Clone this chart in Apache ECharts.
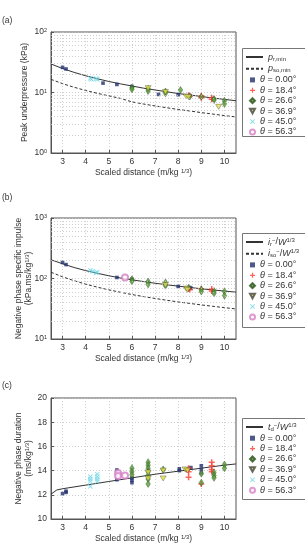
<!DOCTYPE html>
<html>
<head>
<meta charset="utf-8">
<script src="https://cdn.jsdelivr.net/npm/echarts@6/dist/echarts.min.js"></script>
<style>
html,body{margin:0;padding:0;background:#fff}
#main{width:305px;height:552px}
</style>
</head>
<body>
<div id="main"></div>
<script>
// x ticks (scaled distance)
var xTicks = [3, 4, 5, 6, 7, 8, 9, 10];
// minor grid lines of the log axes
var minorA = [2, 3, 4, 5, 6, 7, 8, 9, 20, 30, 40, 50, 60, 70, 80, 90];
var minorB = [20, 30, 40, 50, 60, 70, 80, 90, 200, 300, 400, 500, 600, 700, 800, 900];

// curves
var curveX = [2.5, 3, 3.5, 4, 4.5, 5, 5.5, 6, 6.5, 7, 7.5, 8, 8.5, 9, 9.5, 10, 10.5];
var prMin  = [29.6, 24.9, 21.5, 18.9, 16.9, 15.2, 13.9, 12.8, 11.8, 11.0, 10.3, 9.6, 9.1, 8.6, 8.1, 7.7, 7.3];
var psoMin = [16.5, 14.0, 12.2, 10.8, 9.7, 8.8, 8.0, 7.0, 6.45, 6.0, 5.6, 5.25, 4.95, 4.65, 4.4, 4.15, 3.95];
var irW    = [204, 175, 152, 135, 122, 111, 102, 95, 89, 83.5, 78.8, 74.7, 71, 67.7, 64.7, 62, 59.5];
var isoW   = [127, 106.5, 92, 80.6, 72, 65, 59.3, 54.3, 50.3, 46.8, 43.7, 41, 38.7, 36.6, 34.7, 33, 31.4];
var tdX    = [2.5, 2.75, 3, 4, 5, 6, 7, 8, 9, 10, 10.5];
var tdW    = [12.05, 12.4, 12.5, 12.8, 13.1, 13.4, 13.7, 13.95, 14.2, 14.45, 14.55];

// (a) peak underpressure, kPa
var a00 = [[3.0,26],[3.15,24.5],[4.75,14.3],[5.35,13.6],[6.0,12.6],[7.15,9.3],[8.0,9.2],[8.5,8.9]];
var a18 = [[8.45,9.0],[8.5,8.7],[9.0,8.8],[9.0,8.2],[9.45,8.2],[9.45,7.7]];
var a26 = [[6.0,12.0],[6.0,11.3],[6.7,11.5],[6.7,10.6],[7.45,10.4],[7.45,9.7],[8.1,11.0],[8.5,8.6],[9.0,8.5],[9.55,7.8],[9.55,7.5],[10.0,7.3],[10.0,6.5]];
var a36 = [[6.7,11.8],[7.45,10.2],[8.35,8.6],[8.45,8.4],[9.75,5.8]];
var a45 = [[4.2,17.2],[4.25,16.5],[4.45,17.0],[4.5,16.5]];
var a56 = [];

// (b) negative phase specific impulse
var b00 = [[3.0,184],[3.15,170],[5.35,104],[6.0,97],[8.0,74],[8.5,71],[8.55,69]];
var b18 = [[8.45,68],[8.5,65],[9.0,68],[9.45,67],[9.45,62]];
var b26 = [[6.0,97],[6.0,90],[6.7,89],[6.7,80],[7.45,86],[7.45,76],[8.45,70],[9.0,66],[9.0,61],[9.55,62],[9.55,57],[10.0,61],[10.0,52]];
var b36 = [[7.45,78],[8.35,68],[8.4,65]];
var b45 = [[4.2,135],[4.3,132],[4.45,124],[4.5,127]];
var b56 = [[5.7,104]];

// (c) negative phase duration
var c00 = [[3.0,12.1],[3.15,12.2],[3.15,12.3],[5.35,14.05],[5.35,13.25],[6.0,13.4],[6.0,13.2],[6.0,13.0],[8.05,14.15],[8.05,14.0],[8.55,14.25],[9.0,14.4],[9.0,14.1],[9.0,13.8]];
var c18 = [[8.45,14.2],[8.45,13.9],[8.45,13.45],[9.0,12.9],[9.45,14.7],[9.45,14.4],[9.45,14.1],[9.45,13.9]];
var c26 = [[6.0,14.2],[6.0,13.9],[6.0,13.65],[6.7,14.7],[6.7,14.45],[6.7,14.2],[6.7,13.9],[6.7,13.6],[6.7,13.3],[6.7,12.9],[7.35,14.1],[9.0,13.75],[9.0,13.0],[9.55,13.85],[9.55,13.6],[9.55,13.4],[10.0,14.5],[10.0,14.2]];
var c36 = [[6.7,13.85],[6.7,13.35],[7.35,14.0],[7.35,13.35],[8.3,14.1],[8.4,14.0]];
var c45 = [[4.2,13.5],[4.2,13.3],[4.2,13.1],[4.2,12.7],[4.5,13.7],[4.5,13.5],[4.5,13.3],[4.5,13.1]];
var c56 = [[5.4,13.8],[5.4,13.55],[5.7,13.6]];

var thetaNames = ['θ = 0.00°', 'θ = 18.4°', 'θ = 26.6°', 'θ = 36.9°', 'θ = 45.0°', 'θ = 56.3°'];

var FONT = 'Liberation Sans';
var TXT = '#333';

var marks = {
  'θ = 0.00°': {symbol: 'rect', symbolSize: 3.6, itemStyle: {color: '#1f2f6b'}},
  'θ = 18.4°': {symbol: 'path://M3,0H5V3H8V5H5V8H3V5H0V3H3Z', symbolSize: 6, itemStyle: {color: '#ff3b2f'}},
  'θ = 26.6°': {symbol: 'diamond', symbolSize: [4.5, 7], itemStyle: {color: '#5a9e3a', borderColor: '#2a4f1a', borderWidth: 0.5}},
  'θ = 36.9°': {symbol: 'path://M0,0H10L5,9Z', symbolSize: [6, 5], itemStyle: {color: '#e6e23c', borderColor: '#444', borderWidth: 0.5}},
  'θ = 45.0°': {symbol: 'path://M1,0L4,3L7,0L8,1L5,4L8,7L7,8L4,5L1,8L0,7L3,4L0,1Z', symbolSize: 5, itemStyle: {color: '#63d3e3'}},
  'θ = 56.3°': {symbol: 'emptyCircle', symbolSize: 6, itemStyle: {color: '#d67fc4', borderWidth: 0.9}}
};

var labels = {
  pr: '{i|p}{sub|r,min}',
  pso: '{i|p}{sub|so,min}',
  ir: '{i|i}{sub|r}{sup|−}/{i|W}{sup|1/3}',
  iso: '{i|i}{sub|so}{sup|−}/{i|W}{sup|1/3}',
  td: '{i|t}{sub|d}{sup|−}/{i|W}{sup|1/3}'
};

var richText = {
  i: {fontStyle: 'italic', fontSize: 9, fontFamily: FONT, color: TXT, lineHeight: 10},
  sub: {fontSize: 6, fontFamily: FONT, color: TXT, lineHeight: 5, verticalAlign: 'bottom'},
  sup: {fontSize: 6, fontFamily: FONT, color: TXT, lineHeight: 5, verticalAlign: 'top'}
};

function zip(xs, ys) {
  return xs.map(function (x, i) { return [x, ys[i]]; });
}

function scatters(sets, idx) {
  return sets.map(function (d, k) {
    var m = marks[thetaNames[k]];
    return {
      type: 'scatter', name: thetaNames[k], data: d,
      xAxisIndex: idx, yAxisIndex: idx,
      symbol: m.symbol, symbolSize: m.symbolSize, itemStyle: m.itemStyle,
      z: 3
    };
  });
}

function curve(name, data, idx, dashed, minor) {
  var s = {
    type: 'line', name: name, data: data,
    xAxisIndex: idx, yAxisIndex: idx,
    symbol: 'none', smooth: false,
    lineStyle: {color: '#333', width: 1, type: dashed ? [3, 2] : 'solid'},
    itemStyle: {color: '#333'},
    z: 2
  };
  if (minor) {
    s.markLine = {
      silent: true, symbol: ['none', 'none'], animation: false,
      label: {show: false},
      lineStyle: {color: '#c4c4c4', type: [1, 2], width: 0.8},
      data: minor.map(function (v) { return {yAxis: v}; })
    };
  }
  return s;
}

function legendFmt(name) {
  if (labels[name]) return labels[name];
  return '{i|θ}' + name.slice(1);
}

var tops = [32, 218, 398];
var boxes = [[48, 88], [233, 94], [418, 81]];

function xAx(i) {
  return {
    type: 'value', gridIndex: i, min: 2.5, max: 10.5,
    name: 'Scaled distance (m/kg {sup|1/3})', nameLocation: 'middle', nameGap: 15,
    nameMoveOverlap: false,
    nameTextStyle: {fontFamily: FONT, fontSize: 8.5, color: TXT, rich: richText},
    axisLine: {lineStyle: {color: '#555', width: 1}},
    axisTick: {inside: true, length: 3, customValues: xTicks, lineStyle: {color: '#555'}},
    axisLabel: {customValues: xTicks, fontFamily: FONT, fontSize: 8.5, color: TXT, margin: 4},
    splitLine: {show: true, lineStyle: {color: '#c4c4c4', type: [1, 2], width: 0.8}}
  };
}

function logLabel(v) {
  return '10{sup|' + Math.round(Math.log10(v)) + '}';
}

var yAxes = [
  {type: 'log', logBase: 10, gridIndex: 0, min: 1, max: 100,
   name: 'Peak underpressure (kPa)', nameGap: 21},
  {type: 'log', logBase: 10, gridIndex: 1, min: 10, max: 1000,
   name: 'Negative phase specific impulse\n(kPa.ms/kg{sup|1/3})', nameGap: 17},
  {type: 'value', gridIndex: 2, min: 10, max: 20, interval: 2,
   name: 'Negative phase duration\n(ms/kg{sup|1/3})', nameGap: 17}
].map(function (y, i) {
  y.nameLocation = 'middle';
  y.nameMoveOverlap = false;
  y.nameTextStyle = {fontFamily: FONT, fontSize: 8.5, color: TXT, lineHeight: 10, rich: {
    sup: {fontSize: 6, fontFamily: FONT, color: TXT, lineHeight: 5, verticalAlign: 'top'}}};
  y.axisLine = {show: true, lineStyle: {color: '#555', width: 1}};
  y.axisTick = {inside: true, length: 3, lineStyle: {color: '#555'}};
  y.axisLabel = {fontFamily: FONT, fontSize: 8.5, color: TXT, margin: 4,
    formatter: y.type === 'log' ? logLabel : '{value}',
    rich: {sup: {fontSize: 5.5, fontFamily: FONT, color: TXT, lineHeight: 5, verticalAlign: 'top'}}};
  y.splitLine = {show: true, lineStyle: {color: '#c4c4c4', type: [1, 2], width: 0.8}};
  return y;
});

var lineLegends = [['pr', 'pso'], ['ir', 'iso'], ['td']];
var legends = [];
var graphics = [];
[0, 1, 2].forEach(function (i) {
  var bt = boxes[i][0];
  graphics.push({type: 'rect', left: 242, top: bt, z: 0,
    shape: {width: 80, height: boxes[i][1]},
    style: {fill: '#fff', stroke: '#777', lineWidth: 1}});
  var nLines = lineLegends[i].length;
  legends.push({
    orient: 'vertical', left: 245, top: bt + 4, padding: 0,
    itemWidth: 17, itemHeight: 8, itemGap: 1.7,
    itemStyle: {opacity: 0},
    data: lineLegends[i], formatter: legendFmt, selectedMode: false,
    textStyle: {fontFamily: FONT, fontSize: 9, color: TXT, lineHeight: 10, rich: richText}
  });
  legends.push({
    orient: 'vertical', left: 249, top: bt + 4 + nLines * 11.7 - 0.5, padding: 0,
    itemWidth: 5, itemHeight: 5, itemGap: 0.4,
    data: thetaNames, formatter: legendFmt, selectedMode: false,
    textStyle: {fontFamily: FONT, fontSize: 9, color: TXT, lineHeight: 10, rich: richText}
  });
});

var series = [];
series.push(curve('pr', zip(curveX, prMin), 0, false, minorA));
series.push(curve('pso', zip(curveX, psoMin), 0, true));
series = series.concat(scatters([a00, a18, a26, a36, a45, a56], 0));
series.push(curve('ir', zip(curveX, irW), 1, false, minorB));
series.push(curve('iso', zip(curveX, isoW), 1, true));
series = series.concat(scatters([b00, b18, b26, b36, b45, b56], 1));
series.push(curve('td', zip(tdX, tdW), 2, false));
series = series.concat(scatters([c00, c18, c26, c36, c45, c56], 2));

var chart = echarts.init(document.getElementById('main'), null, {renderer: 'canvas'});
chart.setOption({
  animation: false,
  backgroundColor: '#fff',
  textStyle: {fontFamily: FONT},
  title: ['(a)', '(b)', '(c)'].map(function (t, i) {
    return {text: t, left: 2, top: [16, 193, 381][i], padding: 0,
      textStyle: {fontFamily: FONT, fontSize: 8.5, fontWeight: 'normal', color: TXT}};
  }),
  grid: tops.map(function (t) {
    return {left: 51, top: t, width: 185, height: 121, show: true,
      borderColor: '#555', borderWidth: 1, backgroundColor: 'transparent',
      outerBoundsMode: 'none'};
  }),
  xAxis: [xAx(0), xAx(1), xAx(2)],
  yAxis: yAxes,
  legend: legends,
  graphic: graphics,
  series: series
});
</script>
</body>
</html>
